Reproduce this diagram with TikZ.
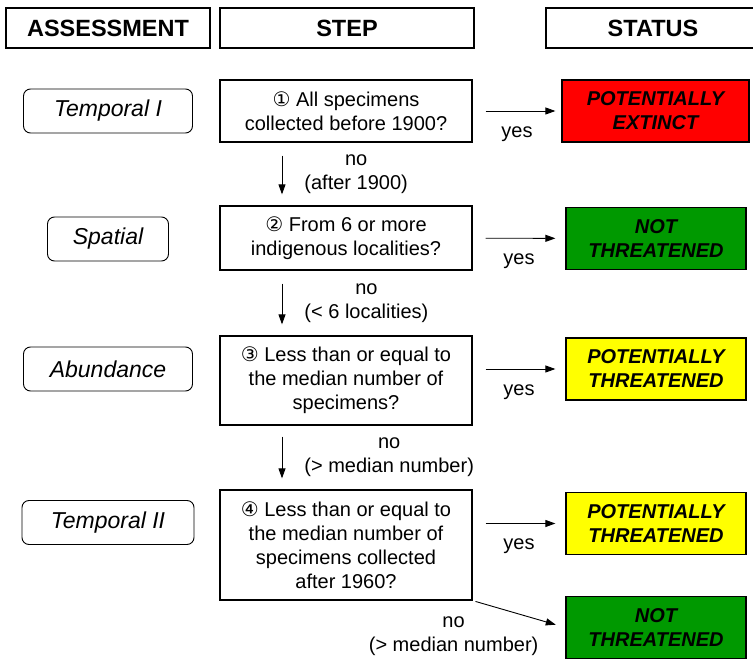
\documentclass[tikz,border=0pt]{standalone}
\usepackage{fontspec}
\setmainfont{Liberation Sans}
\newfontfamily\circfont{DejaVu Sans}
\usetikzlibrary{arrows.meta, positioning}
\definecolor{colorExtinct}{HTML}{FF0000}
\definecolor{colorSafe}{HTML}{009900}
\definecolor{colorWarn}{HTML}{FFFF00}

\begin{document}
\begin{tikzpicture}[x=1pt, y=-1pt, font=\fontsize{20}{24}\selectfont,
        >={Triangle[length=10pt, width=7pt]},
        hdr/.style={draw, line width=1.2pt, minimum height=40pt, inner sep=0pt,
            font=\fontsize{23.5}{27}\selectfont\bfseries},
        asm/.style={draw, rounded corners=7pt, line width=0.9pt, minimum height=44pt,
            inner sep=0pt, font=\fontsize{23}{27}\selectfont\itshape},
        stepbox/.style={draw, line width=1.2pt, minimum width=252pt, inner sep=0pt, align=center},
        stat/.style={draw, line width=1.2pt, minimum width=180pt, minimum height=62pt,
            inner sep=0pt, align=center, font=\fontsize{20}{24}\selectfont\bfseries\itshape},
        tr/.style={->, line width=0.9pt},
        lbl/.style={align=center, inner sep=0pt}]
        \useasboundingbox (0,0) rectangle (753,660);
        % column heads
        \node[hdr, minimum width=204pt] (hA) at (108,28) {ASSESSMENT};
        \node[hdr, minimum width=254pt] (hS) at (347,28) {STEP};
        \node[hdr, minimum width=214pt] (hT) at (653,28) {STATUS};
        % steps
        \node[stepbox, minimum height=62pt] (s1) at (346,111) {{\circfont ①} All specimens\\collected before 1900?};
        \node[stepbox, minimum height=64pt] (s2) at (346,238) {{\circfont ②} From 6 or more\\indigenous localities?};
        \node[stepbox, minimum height=89pt] (s3) at (346,380.5) {{\circfont ③} Less than or equal to\\the median number of\\specimens?};
        \node[stepbox, minimum height=110pt] (s4) at (346,545) {{\circfont ④} Less than or equal to\\the median number of\\specimens collected\\after 1960?};
        % assessments
        \node[asm, minimum width=169pt] (a1) at (108,111) {Temporal I};
        \node[asm, minimum width=121pt] (a2) at (108,239) {Spatial};
        \node[asm, minimum width=169pt] (a3) at (108,369) {Abundance};
        \node[asm, minimum width=172pt] (a4) at (108,522.5) {Temporal II};
        % status
        \node[stat, fill=colorExtinct, minimum width=187pt] (r1) at (655.5,111) {POTENTIALLY\\EXTINCT};
        \node[stat, fill=colorSafe] (g1) at (656,238.5) {NOT\\THREATENED};
        \node[stat, fill=colorWarn] (y1) at (656,369) {POTENTIALLY\\THREATENED};
        \node[stat, fill=colorWarn] (y2) at (656,523.5) {POTENTIALLY\\THREATENED};
        \node[stat, fill=colorSafe] (g2) at (656,627.5) {NOT\\THREATENED};
        % yes
        \draw[tr, shorten <=13pt, shorten >=6pt] (s1) -- node[lbl, below=15pt] {yes} (r1);
        \draw[tr, shorten <=13pt, shorten >=10pt] (s2) -- node[lbl, below=15pt] {yes} (g1);
        \draw[tr, shorten <=13pt, shorten >=10pt] (s3.east |- y1) -- node[lbl, below=15pt] {yes} (y1);
        \draw[tr, shorten <=13pt, shorten >=10pt] (s4.east |- y2) -- node[lbl, below=15pt] {yes} (y2);
        % no
        \draw[tr, shorten <=13pt, shorten >=11pt] ([xshift=-64pt]s1.south) -- node[lbl, right=22pt] {no\\(after 1900)} ([xshift=-64pt]s2.north);
        \draw[tr, shorten <=13pt, shorten >=11pt] ([xshift=-64pt]s2.south) -- node[lbl, right=22pt] {no\\(< 6 localities)} ([xshift=-64pt]s3.north);
        \draw[tr, shorten <=11pt, shorten >=11pt] ([xshift=-64pt]s3.south) -- node[lbl, right=22pt] {no\\(> median number)} ([xshift=-64pt]s4.north);
        \draw[tr, shorten <=3pt, shorten >=10pt] (s4.south east) -- node[lbl, at start, anchor=north, xshift=-19pt, yshift=-16pt] {no\\(> median number)} (g2.west);
    \end{tikzpicture}
\end{document}
